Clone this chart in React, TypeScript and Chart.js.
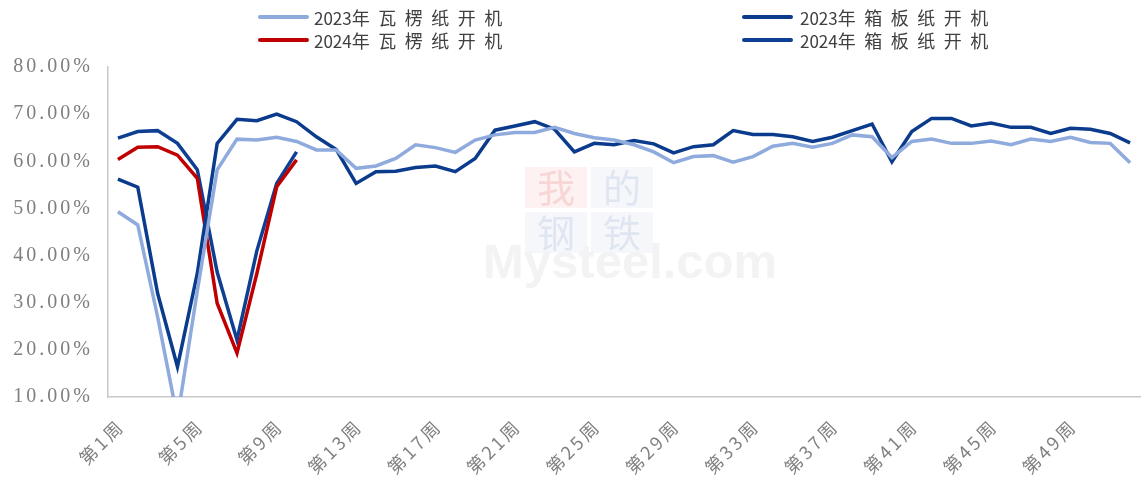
import React, { useEffect, useRef } from 'react';
import { Chart, registerables } from 'chart.js';

Chart.register(...registerables);

const weekLabels = [
  '第1周', '第2周', '第3周', '第4周', '第5周', '第6周', '第7周', '第8周', '第9周', '第10周',
  '第11周', '第12周', '第13周', '第14周', '第15周', '第16周', '第17周', '第18周', '第19周', '第20周',
  '第21周', '第22周', '第23周', '第24周', '第25周', '第26周', '第27周', '第28周', '第29周', '第30周',
  '第31周', '第32周', '第33周', '第34周', '第35周', '第36周', '第37周', '第38周', '第39周', '第40周',
  '第41周', '第42周', '第43周', '第44周', '第45周', '第46周', '第47周', '第48周', '第49周', '第50周',
  '第51周', '第52周',
];

const corrugated2023 = [
  49.3, 46.5, 27.0, 5.5, 32.5, 58.2, 64.7, 64.5, 65.1, 64.2,
  62.4, 62.4, 58.5, 59.0, 60.6, 63.5, 62.9, 61.9, 64.5, 65.6,
  66.1, 66.1, 67.2, 65.9, 65.0, 64.5, 63.5, 62.0, 59.7, 61.0,
  61.2, 59.8, 61.0, 63.2, 63.8, 63.0, 63.8, 65.6, 65.2, 60.8,
  64.2, 64.7, 63.8, 63.8, 64.3, 63.5, 64.7, 64.2, 65.1, 64.0,
  63.8, 59.7,
];

const container2023 = [
  56.2, 54.5, 32.0, 16.4, 36.2, 63.8, 68.9, 68.6, 70.0, 68.4,
  65.2, 62.5, 55.3, 57.8, 57.9, 58.7, 59.0, 57.8, 60.6, 66.6,
  67.5, 68.4, 66.8, 62.0, 63.8, 63.5, 64.4, 63.7, 61.8, 63.1,
  63.5, 66.5, 65.7, 65.7, 65.2, 64.2, 65.1, 66.5, 67.9, 59.9,
  66.3, 69.1, 69.1, 67.5, 68.1, 67.2, 67.2, 65.9, 67.0, 66.8,
  65.9, 63.9,
];

const corrugated2024 = [60.4, 63.0, 63.1, 61.3, 56.4, 29.9, 19.3, 36.2, 54.6, 60.3];

const container2024 = [64.9, 66.3, 66.5, 63.8, 58.2, 36.5, 22.1, 41.0, 55.3, 62.0];

const yTicks = [10, 20, 30, 40, 50, 60, 70, 80];

const seriesYears = ['2023', '2023', '2024', '2024'];
const seriesNames = ['年瓦楞纸开机', '年箱板纸开机', '年瓦楞纸开机', '年箱板纸开机'];
const seriesColors = ['#8FAADC', '#0B3B8C', '#C00000', '#0F3F92'];

const labelSpacingPlugin = {
  id: 'labelSpacing',
  afterLayout(chart: any) {
    const spacing: Record<string, { ls: string; dx: number; dy: number }> = {
      x: { ls: '3px', dx: 3, dy: 0 },
      y: { ls: '3px', dx: 0, dy: 0 },
    };
    Object.keys(spacing).forEach((id) => {
      const s = chart.scales[id];
      if (s && !s.__spaced) {
        const orig = s.drawLabels;
        s.drawLabels = function (area: any) {
          const c = this.ctx;
          c.save();
          c.letterSpacing = spacing[id].ls;
          c.translate(spacing[id].dx, spacing[id].dy);
          orig.call(this, area);
          c.restore();
        };
        s.__spaced = true;
      }
    });
  },
};

const watermarkPlugin = {
  id: 'watermark',
  beforeDatasetsDraw(chart: any) {
    const c = chart.ctx;
    c.save();
    const boxes = [
      { t: '我', x: 525, y: 167, bg: 'rgba(253,240,240,0.9)', fg: '#F8D6D6' },
      { t: '的', x: 591, y: 167, bg: 'rgba(244,246,251,0.9)', fg: '#E0E6F1' },
      { t: '钢', x: 525, y: 212, bg: 'rgba(244,246,251,0.9)', fg: '#E0E6F1' },
      { t: '铁', x: 591, y: 212, bg: 'rgba(244,246,251,0.9)', fg: '#E0E6F1' },
    ];
    boxes.forEach((b) => {
      c.fillStyle = b.bg;
      c.fillRect(b.x, b.y, 62, 41);
      c.fillStyle = b.fg;
      c.font = '38px "Noto Sans CJK SC"';
      c.textAlign = 'center';
      c.textBaseline = 'middle';
      c.fillText(b.t, b.x + 31, b.y + 21);
    });
    c.font = 'bold 49px "Liberation Sans"';
    c.fillStyle = 'rgba(242,242,242,0.95)';
    c.textAlign = 'left';
    c.textBaseline = 'alphabetic';
    c.fillText('Mysteel.com', 483, 278);
    c.restore();
  },
};

export default function App() {
  const canvasRef = useRef<HTMLCanvasElement | null>(null);

  useEffect(() => {
    if (!canvasRef.current) return;
    const lineDs = (label: string, data: number[], color: string) => ({
      label,
      data,
      borderColor: color,
      backgroundColor: color,
      borderWidth: 3.5,
      pointRadius: 0,
      pointHoverRadius: 0,
      tension: 0,
      fill: false,
      spanGaps: false,
    });
    const chart = new Chart(canvasRef.current, {
      type: 'line',
      data: {
        labels: weekLabels,
        datasets: [
          lineDs(seriesYears[0] + seriesNames[0], corrugated2023, seriesColors[0]),
          lineDs(seriesYears[1] + seriesNames[1], container2023, seriesColors[1]),
          lineDs(seriesYears[2] + seriesNames[2], corrugated2024, seriesColors[2]),
          lineDs(seriesYears[3] + seriesNames[3], container2024, seriesColors[3]),
        ],
      },
      options: {
        responsive: false,
        animation: false,
        layout: { padding: { top: 67, right: 4, left: 0, bottom: 0 } },
        plugins: {
          legend: { display: false },
          tooltip: { enabled: false },
          title: { display: false },
        },
        scales: {
          x: {
            offset: true,
            grid: { display: false, drawTicks: false },
            border: { display: true, color: '#C8C8C8', width: 1.5 },
            ticks: {
              autoSkip: false,
              maxRotation: 45,
              minRotation: 45,
              padding: 18,
              color: '#808080',
              font: { family: '"Noto Sans CJK SC"', size: 18 },
              callback: (_v: any, i: number) => (i % 4 === 0 ? weekLabels[i] : ''),
            },
            afterFit: (s: any) => {
              s.height = 84;
              s.paddingLeft = 0;
              s.paddingRight = 0;
            },
          },
          y: {
            min: yTicks[0],
            max: yTicks[yTicks.length - 1],
            grid: { display: false, drawTicks: false },
            border: { display: true, color: '#C8C8C8', width: 1.5 },
            afterBuildTicks: (s: any) => {
              s.ticks = yTicks.map((v) => ({ value: v }));
            },
            ticks: {
              padding: 15,
              color: '#7F7F7F',
              font: { family: '"Liberation Serif"', size: 20 },
              callback: (v: any) => Number(v).toFixed(2) + '%',
            },
            afterFit: (s: any) => {
              s.width = 108;
              s.paddingTop = 0;
              s.paddingBottom = 0;
            },
          },
        },
      },
      plugins: [labelSpacingPlugin, watermarkPlugin],
    });
    return () => chart.destroy();
  }, []);

  const legendPos = [
    { lx: 258, tx: 314, y: 17 },
    { lx: 742, tx: 800, y: 17 },
    { lx: 258, tx: 314, y: 40 },
    { lx: 742, tx: 800, y: 40 },
  ];

  return (
    <div style={{ position: 'absolute', left: 0, top: 0, width: 1144, height: 481, background: '#fff' }}>
      <canvas ref={canvasRef} width={1144} height={481} style={{ display: 'block' }} />
      {legendPos.map((p, i) => (
        <React.Fragment key={i}>
          <div
            style={{
              position: 'absolute',
              left: p.lx,
              top: p.y - 2,
              width: 51,
              height: 4,
              borderRadius: 2,
              background: seriesColors[i],
            }}
          />
          <div
            style={{
              position: 'absolute',
              left: p.tx,
              top: p.y - 12,
              height: 24,
              lineHeight: '24px',
              fontFamily: '"Noto Sans CJK SC"',
              fontSize: 18,
              color: '#404040',
              whiteSpace: 'nowrap',
            }}
          >
            <span style={{ fontSize: 17 }}>{seriesYears[i]}</span>
            <span style={{ letterSpacing: 8.5 }}>{seriesNames[i]}</span>
          </div>
        </React.Fragment>
      ))}
    </div>
  );
}
